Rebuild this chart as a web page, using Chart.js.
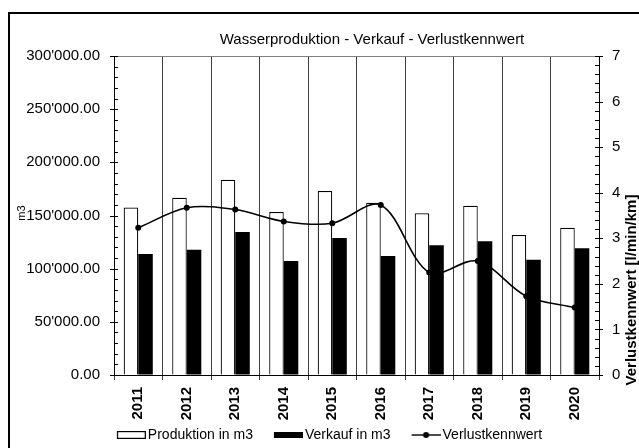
<!DOCTYPE html>
<html><head><meta charset="utf-8">
<script src="https://cdn.jsdelivr.net/npm/chart.js@4"></script>
<style>html,body{margin:0;padding:0;background:#fff;}canvas{display:block;}</style>
</head><body>
<canvas id="c" width="639" height="448"></canvas>
<script>
const categories = ['2011','2012','2013','2014','2015','2016','2017','2018','2019','2020'];
const production = [157500, 166700, 183600, 153300, 173000, 162000, 152000, 159200, 131600, 138500];
const sales = [113800, 117800, 134500, 107200, 128800, 112000, 122000, 125700, 108400, 119100];
const lossIndex = [3.23, 3.67, 3.63, 3.37, 3.33, 3.73, 2.25, 2.50, 1.73, 1.48];
const seriesNames = ['Produktion in m3', 'Verkauf in m3', 'Verlustkennwert'];
const titleText = 'Wasserproduktion - Verkauf - Verlustkennwert';
const leftAxisTitle = 'm3';
const rightAxisTitle = 'Verlustkennwert [l/min/km]';
const leftMax = 300000, leftStep = 10000, leftMajor = 50000;
const rightMax = 7, rightStep = 0.2;

const FONT = '"Liberation Sans", Arial, sans-serif';

function fmtLeft(v) {
  return Math.round(v).toString().replace(/\B(?=(\d{3})+(?!\d))/g, "'") + '.00';
}

// legend symbols: 50px wide image, visible symbol in the right 29px
function makeImg(kind) {
  const c = document.createElement('canvas');
  c.width = 50; c.height = 8;
  const g = c.getContext('2d');
  const x0 = 21;
  if (kind === 0) {
    g.fillStyle = '#fff'; g.fillRect(x0, 0, 29, 8);
    g.strokeStyle = '#000'; g.lineWidth = 1.2; g.strokeRect(x0 + 0.6, 0.6, 27.8, 6.8);
  } else if (kind === 1) {
    g.fillStyle = '#000'; g.fillRect(x0, 1, 29, 6);
  } else {
    g.strokeStyle = '#000'; g.lineWidth = 1.4;
    g.beginPath(); g.moveTo(x0, 4); g.lineTo(x0 + 29, 4); g.stroke();
    g.fillStyle = '#000'; g.beginPath(); g.arc(x0 + 14.5, 4, 3, 0, Math.PI * 2); g.fill();
  }
  return c;
}
const legendImgs = [makeImg(0), makeImg(1), makeImg(2)];

const decorPlugin = {
  id: 'decor',
  beforeDraw(chart) {
    const ctx = chart.ctx;
    ctx.save();
    ctx.fillStyle = '#fff';
    ctx.fillRect(0, 0, chart.width, chart.height);
    ctx.strokeStyle = '#000';
    ctx.lineWidth = 2;
    ctx.beginPath();
    ctx.moveTo(9, 460); ctx.lineTo(9, 13); ctx.lineTo(660, 13);
    ctx.stroke();
    ctx.restore();
  },
  afterDraw(chart) {
    const ctx = chart.ctx;
    const a = chart.chartArea;
    ctx.save();
    ctx.strokeStyle = '#808080';
    ctx.lineWidth = 1;
    ctx.beginPath(); ctx.moveTo(a.left, a.top + 0.5); ctx.lineTo(a.right, a.top + 0.5); ctx.stroke();
    ctx.strokeStyle = '#000';
    const ys = chart.scales.y;
    ys.ticks.forEach(t => {
      const p = Math.round(ys.getPixelForValue(t.value)) + 0.5;
      const major = Math.abs(t.value % leftMajor) < 1e-6;
      ctx.beginPath(); ctx.moveTo(major ? a.left - 4 : a.left, p); ctx.lineTo(a.left + 4, p); ctx.stroke();
    });
    const rs = chart.scales.y2;
    rs.ticks.forEach(t => {
      const p = Math.round(rs.getPixelForValue(t.value)) + 0.5;
      const major = Math.abs(t.value - Math.round(t.value)) < 1e-6;
      ctx.beginPath(); ctx.moveTo(a.right - 4, p); ctx.lineTo(major ? a.right + 4 : a.right, p); ctx.stroke();
    });
    ctx.fillStyle = '#000';
    ctx.font = '15px ' + FONT;
    ctx.textAlign = 'center';
    ctx.textBaseline = 'alphabetic';
    ctx.fillText(titleText, 372, 44);
    ctx.save();
    ctx.translate(25, 213);
    ctx.rotate(-Math.PI / 2);
    ctx.font = '11px ' + FONT;
    ctx.fillText(leftAxisTitle, 0, 0);
    ctx.restore();
    ctx.save();
    ctx.translate(636, 290);
    ctx.rotate(-Math.PI / 2);
    ctx.font = 'bold 15px ' + FONT;
    ctx.fillText(rightAxisTitle, 0, 0);
    ctx.restore();
    ctx.restore();
  }
};

new Chart(document.getElementById('c'), {
  data: {
    labels: categories,
    datasets: [
      { type: 'bar', label: seriesNames[0], data: production, yAxisID: 'y',
        backgroundColor: '#fff', borderColor: '#000', borderWidth: 1.2, order: 1,
        categoryPercentage: 0.6, barPercentage: 1.0 },
      { type: 'bar', label: seriesNames[1], data: sales, yAxisID: 'y',
        backgroundColor: '#000', borderColor: '#000', borderWidth: 0, order: 1,
        categoryPercentage: 0.6, barPercentage: 1.0 },
      { type: 'line', label: seriesNames[2], data: lossIndex, yAxisID: 'y2',
        borderColor: '#000', borderWidth: 1.6, backgroundColor: '#000',
        pointRadius: 3, pointBackgroundColor: '#000', pointBorderWidth: 0,
        tension: 0.33, fill: false, order: -1 }
    ]
  },
  options: {
    responsive: false,
    animation: false,
    devicePixelRatio: 1,
    layout: { padding: { left: 4, right: 0, top: 56, bottom: -4 } },
    plugins: {
      tooltip: { enabled: false },
      title: { display: false },
      legend: {
        position: 'bottom',
        labels: {
          usePointStyle: true,
          pointStyleWidth: 40,
          padding: 5,
          color: '#000',
          font: { family: FONT, size: 14 },
          sort: (a, b) => a.datasetIndex - b.datasetIndex,
          generateLabels: (chart) => chart.data.datasets.map((ds, i) => ({
            text: ds.label, pointStyle: legendImgs[i], datasetIndex: i,
            fillStyle: 'transparent', strokeStyle: 'transparent', lineWidth: 0,
            hidden: false, fontColor: '#000'
          }))
        }
      }
    },
    scales: {
      x: {
        offset: true,
        grid: { offset: true, display: true, drawOnChartArea: true, drawTicks: true, tickLength: 5, color: '#404040', lineWidth: 1 },
        border: { display: true, color: '#000', width: 1 },
        ticks: { minRotation: 90, maxRotation: 90, padding: 7, color: '#000', font: { family: FONT, size: 15, weight: 'bold' } },
        afterFit: (s) => { s.height = 48; }
      },
      y: {
        position: 'left', min: 0, max: leftMax,
        grid: { display: true, drawOnChartArea: false, drawTicks: false },
        border: { display: true, color: '#000', width: 1 },
        ticks: { stepSize: leftStep, autoSkip: false, padding: 14, color: '#000',
          font: { family: FONT, size: 15 },
          callback: (v) => (Math.abs(v % leftMajor) < 1e-6 ? fmtLeft(v) : '') },
        afterFit: (s) => { s.width = 110; }
      },
      y2: {
        position: 'right', min: 0, max: rightMax,
        grid: { display: true, drawOnChartArea: false, drawTicks: false },
        border: { display: true, color: '#000', width: 1 },
        ticks: { stepSize: rightStep, autoSkip: false, padding: 13, color: '#000',
          font: { family: FONT, size: 15 },
          callback: (v) => (Math.abs(v - Math.round(v)) < 1e-6 ? String(Math.round(v)) : '') },
        afterFit: (s) => { s.width = 40; }
      }
    }
  },
  plugins: [decorPlugin]
});
</script>
</body></html>
